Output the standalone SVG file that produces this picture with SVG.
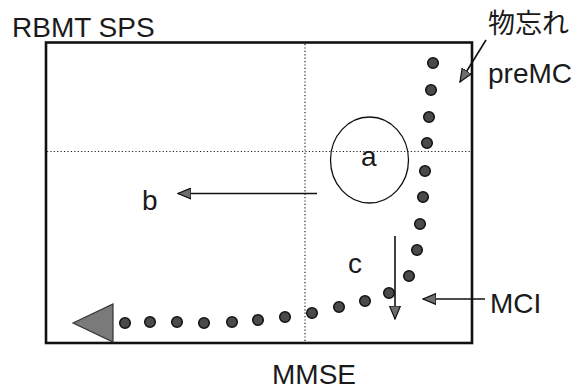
<svg xmlns="http://www.w3.org/2000/svg" width="577" height="391" viewBox="0 0 577 391">
<style>
.t{font-family:"Liberation Sans",Arial,sans-serif;font-size:28px;fill:#1a1a1a}
.j{font-family:"Liberation Sans","Noto Sans CJK JP",sans-serif;font-size:27px;fill:#1a1a1a}
.dot{fill:#4a4a4a;stroke:#111;stroke-width:1.5}
.dotted{stroke:#222;stroke-width:1.2;stroke-dasharray:1.2 2.2;fill:none}
.ln{stroke:#111;stroke-width:1.6;fill:none}
.hd{fill:#6e6e6e;stroke:#111;stroke-width:1.2;stroke-linejoin:miter}
</style>
<defs>
<marker id="ah" markerWidth="14" markerHeight="12" refX="13" refY="6" orient="auto" markerUnits="userSpaceOnUse">
<polygon points="0,0.5 13,6 0,11.5" class="hd"/>
</marker>
</defs>
<rect width="577" height="391" fill="#fff"/>
<g id="frame">
<rect x="46" y="42.5" width="426" height="300.5" fill="none" stroke="#111" stroke-width="2.6"/>
<line class="dotted" x1="305" y1="44" x2="305" y2="342"/>
<line class="dotted" x1="47" y1="151.5" x2="471" y2="151.5"/>
</g>
<g id="axis-labels">
<text class="t" x="12" y="37" font-size="29">RBMT SPS</text>
<text class="t" x="272" y="384">MMSE</text>
</g>
<g id="node-a">
<ellipse cx="369.5" cy="160" rx="39" ry="43" fill="none" stroke="#111" stroke-width="1.3"/>
<text class="t" x="361" y="166">a</text>
</g>
<g id="node-b"><text class="t" x="142" y="210">b</text></g>
<g id="node-c"><text class="t" x="348" y="273">c</text></g>
<g id="node-monowasure"><text class="j" x="488" y="33">物忘れ</text></g>
<g id="node-premci"><text class="t" x="488" y="83">preMC</text></g>
<g id="node-mci"><text class="t" x="490" y="313">MCI</text></g>
<g id="trajectory">
<circle class="dot" cx="433" cy="63" r="5.3"/>
<circle class="dot" cx="431" cy="90" r="5.3"/>
<circle class="dot" cx="429" cy="117" r="5.3"/>
<circle class="dot" cx="427" cy="143" r="5.3"/>
<circle class="dot" cx="425" cy="171" r="5.3"/>
<circle class="dot" cx="423" cy="197" r="5.3"/>
<circle class="dot" cx="420" cy="224" r="5.3"/>
<circle class="dot" cx="417" cy="250" r="5.3"/>
<circle class="dot" cx="409" cy="276" r="5.3"/>
<circle class="dot" cx="389" cy="293" r="5.3"/>
<circle class="dot" cx="365" cy="301" r="5.3"/>
<circle class="dot" cx="339" cy="307" r="5.3"/>
<circle class="dot" cx="312" cy="313" r="5.3"/>
<circle class="dot" cx="285" cy="317" r="5.3"/>
<circle class="dot" cx="258" cy="320" r="5.3"/>
<circle class="dot" cx="232" cy="322" r="5.3"/>
<circle class="dot" cx="204" cy="323" r="5.3"/>
<circle class="dot" cx="177" cy="322" r="5.3"/>
<circle class="dot" cx="150" cy="322" r="5.3"/>
<circle class="dot" cx="125" cy="323" r="5.3"/>
<polygon points="73,323 113,304 113,342" fill="#7a7a7a" stroke="#333" stroke-width="1.2"/>
</g>
<g id="connectors">
<line class="ln" x1="317" y1="193.5" x2="178" y2="193.5" marker-end="url(#ah)"/>
<line class="ln" x1="395" y1="236" x2="395" y2="319" marker-end="url(#ah)"/>
<line class="ln" x1="485" y1="299" x2="423" y2="299" marker-end="url(#ah)"/>
<line class="ln" x1="486" y1="40" x2="460" y2="82" marker-end="url(#ah)"/>
</g>
</svg>
